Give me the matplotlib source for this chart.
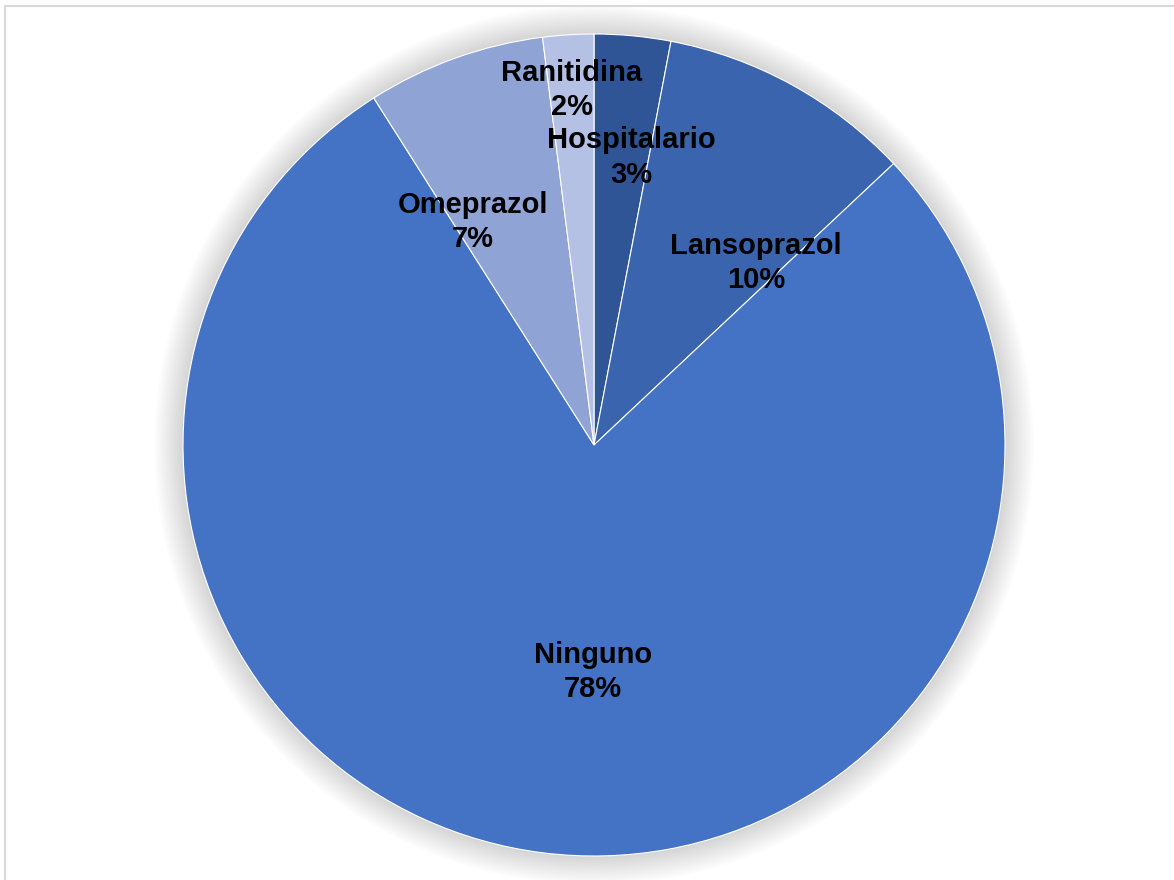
import matplotlib
matplotlib.use("Agg")
import matplotlib.pyplot as plt
from matplotlib.patches import Circle, Rectangle

plt.rcParams['font.family'] = ['Liberation Sans', 'DejaVu Sans']

categories = ["Hospitalario", "Lansoprazol", "Ninguno", "Omeprazol", "Ranitidina"]
values = [3, 10, 78, 7, 2]
pct_labels = ["3%", "10%", "78%", "7%", "2%"]
colors = ["#2F5597", "#3A64AD", "#4472C4", "#8FA3D5", "#B4C1E4"]
# label centres in pie units (radius = 1)
label_pos = [(0.092, 0.70), (0.394, 0.443), (-0.002, -0.552), (-0.294, 0.543), (-0.054, 0.864)]

fig = plt.figure(figsize=(11.74, 8.8), dpi=100)
fig.patches.append(Rectangle((5 / 1174, -0.1), 1.2, 1.093,
                             transform=fig.transFigure, fill=False,
                             edgecolor="#D9D9D9", linewidth=1.5))
ax = fig.add_axes([183 / 1174, 24 / 880, 822 / 1174, 822 / 880])

# soft shadow around the pie
for i in range(14):
    ax.add_patch(Circle((0, 0), 1.0 + 0.005 * (i + 1), color="black",
                        alpha=0.011, linewidth=0, zorder=0, clip_on=False))

wedges, _ = ax.pie(values, colors=colors, startangle=90, counterclock=False,
                   radius=1, wedgeprops=dict(edgecolor="white", linewidth=0.8))
for w in wedges:
    w.set_zorder(2)

for (x, y), name, pct in zip(label_pos, categories, pct_labels):
    ax.text(x, y, name + "\n" + pct, ha="center", va="center", fontsize=21,
            fontweight="bold", color="black", linespacing=1.3, zorder=3)

ax.set_xlim(-1, 1)
ax.set_ylim(-1, 1)
ax.set_aspect("equal")
ax.axis("off")

fig.savefig("out.png", dpi=100)
